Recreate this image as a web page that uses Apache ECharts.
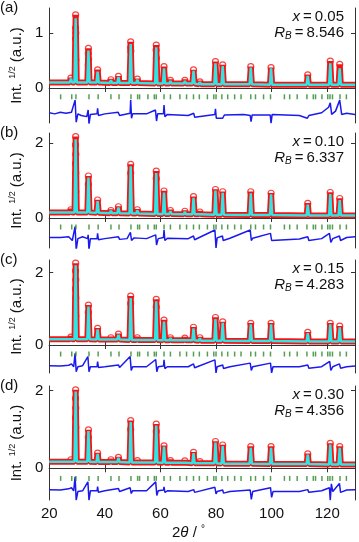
<!DOCTYPE html>
<html>
<head>
<meta charset="utf-8">
<script src="https://cdn.jsdelivr.net/npm/echarts@6/dist/echarts.min.js"></script>
<style>
html,body{margin:0;padding:0;background:#fff;}
#main{width:359px;height:542px;}
</style>
</head>
<body>
<div id="main"></div>
<script>
// x: 2theta (deg), y: sqrt intensity
const xTicks = [20, 40, 60, 80, 100, 120];
const panelTags = ['(a)', '(b)', '(c)', '(d)'];
const compX = ['0.05', '0.10', '0.15', '0.30'];
const rB = ['8.546', '6.337', '4.283', '4.356'];
const yMin = [-0.636, -0.8, -0.773, -0.817];
const yMax = [1.455, 2.267, 2.348, 2.12];
const yTicks = [[0, 1], [0, 2], [0, 2], [0, 2]];
const braggY = [-0.16, -0.24, -0.25, -0.26];

// background level at both ends
const baseA = [[20, 0.1], [130, 0.06]];
const baseB = [[20, 0.15], [130, 0.07]];
const baseC = [[20, 0.16], [130, 0.1]];
const baseD = [[20, 0.17], [130, 0.1]];

// peaks: [2theta, observed top, calculated top, local background]
const peaksA = [
  [27.8, 0.18, 0.17, 0.1], [29.5, 1.33, 1.27, 0.1], [34.1, 0.72, 0.68, 0.1], [37.4, 0.33, 0.3, 0.1],
  [42.2, 0.15, 0.14, 0.09], [44.9, 0.21, 0.2, 0.09], [49.3, 0.84, 0.8, 0.09], [51.7, 0.16, 0.15, 0.09],
  [58.5, 0.78, 0.74, 0.08], [61.3, 0.39, 0.36, 0.08], [63.6, 0.14, 0.13, 0.08], [68.8, 0.14, 0.13, 0.08],
  [71.9, 0.33, 0.31, 0.08], [74.2, 0.11, 0.11, 0.07], [79.8, 0.48, 0.45, 0.07], [82.4, 0.42, 0.4, 0.07],
  [92.5, 0.39, 0.37, 0.07], [99.8, 0.37, 0.36, 0.06], [113.0, 0.24, 0.22, 0.06], [121.1, 0.49, 0.45, 0.06],
  [124.5, 0.43, 0.36, 0.06]
];
const peaksB = [
  [27.8, 0.22, 0.2, 0.15], [29.5, 2.17, 2.1, 0.15], [34.1, 1.12, 1.08, 0.15], [37.4, 0.48, 0.45, 0.14],
  [42.2, 0.2, 0.19, 0.13], [44.9, 0.3, 0.28, 0.13], [49.3, 1.43, 1.38, 0.12], [51.7, 0.22, 0.2, 0.12],
  [58.5, 1.25, 1.2, 0.11], [61.3, 0.72, 0.68, 0.11], [63.6, 0.2, 0.18, 0.11], [68.8, 0.18, 0.17, 0.1],
  [71.9, 0.57, 0.54, 0.1], [74.2, 0.16, 0.15, 0.1], [79.8, 0.76, 0.73, 0.09], [82.4, 0.7, 0.67, 0.09],
  [92.5, 0.7, 0.66, 0.08], [99.8, 0.66, 0.63, 0.08], [113.0, 0.39, 0.36, 0.07], [121.1, 0.68, 0.64, 0.07],
  [124.5, 0.52, 0.48, 0.07]
];
const peaksC = [
  [27.8, 0.22, 0.2, 0.16], [29.5, 2.26, 2.2, 0.16], [34.1, 1.1, 1.06, 0.16], [37.4, 0.46, 0.43, 0.15],
  [42.2, 0.2, 0.19, 0.15], [44.9, 0.3, 0.28, 0.15], [49.3, 1.35, 1.3, 0.14], [51.7, 0.2, 0.19, 0.14],
  [58.5, 1.26, 1.21, 0.14], [61.3, 0.69, 0.65, 0.13], [63.6, 0.2, 0.19, 0.13], [68.8, 0.19, 0.18, 0.13],
  [71.9, 0.49, 0.46, 0.13], [74.2, 0.2, 0.19, 0.12], [79.8, 0.76, 0.72, 0.12], [82.4, 0.64, 0.61, 0.12],
  [92.5, 0.6, 0.57, 0.11], [99.8, 0.6, 0.57, 0.11], [113.0, 0.35, 0.33, 0.1], [121.1, 0.6, 0.57, 0.1],
  [124.5, 0.52, 0.49, 0.1]
];
const peaksD = [
  [27.8, 0.22, 0.21, 0.17], [29.5, 2.02, 1.98, 0.17], [34.1, 0.99, 0.96, 0.17], [37.4, 0.39, 0.37, 0.16],
  [42.2, 0.22, 0.21, 0.16], [44.9, 0.28, 0.27, 0.16], [49.3, 1.23, 1.19, 0.15], [51.7, 0.2, 0.19, 0.15],
  [58.5, 1.14, 1.1, 0.15], [61.3, 0.58, 0.56, 0.14], [63.6, 0.2, 0.19, 0.14], [68.8, 0.19, 0.18, 0.14],
  [71.9, 0.41, 0.39, 0.13], [74.2, 0.17, 0.16, 0.13], [79.8, 0.69, 0.66, 0.13], [82.4, 0.6, 0.57, 0.12],
  [92.5, 0.56, 0.53, 0.12], [99.8, 0.56, 0.53, 0.11], [113.0, 0.37, 0.35, 0.11], [121.1, 0.64, 0.61, 0.1],
  [124.5, 0.56, 0.53, 0.1]
];

// extra observed points seen on the flanks of the strong peaks
const flankA = [[29.45, 1.09], [29.55, 1.0], [29.45, 0.9], [29.45, 0.6], [29.55, 0.51],
  [34.05, 0.63], [34.15, 0.52], [34.05, 0.42], [49.25, 0.74], [49.35, 0.67], [58.45, 0.69], [58.55, 0.54]];
const flankB = [[29.45, 1.95], [29.55, 1.7], [29.45, 1.45], [29.55, 1.2], [29.45, 0.95], [29.55, 0.7],
  [34.05, 0.9], [49.3, 1.2], [58.5, 1.05]];
const flankC = [[29.45, 2.05], [29.55, 1.8], [29.45, 1.55], [29.55, 1.3], [29.45, 1.05], [29.55, 0.8],
  [34.05, 0.9], [49.3, 1.15], [58.5, 1.05]];
const flankD = [[29.45, 1.8], [29.55, 1.55], [29.45, 1.3], [29.55, 1.05], [29.45, 0.8],
  [34.05, 0.8], [49.3, 1.0], [58.5, 0.95]];

// difference curves (obs - calc, offset)
const diffA = [[20, -0.45], [22, -0.47], [24, -0.44], [26, -0.46], [28, -0.44], [29.3, -0.22], [29.7, -0.62], [30.3, -0.47],
  [31.5, -0.5], [33.5, -0.52], [34.0, -0.4], [34.3, -0.65], [34.8, -0.48], [37.2, -0.47], [37.4, -0.37], [37.7, -0.5],
  [40, -0.47], [44.8, -0.44], [45.3, -0.5], [49.1, -0.46], [49.3, -0.22], [49.6, -0.55], [50, -0.47], [55, -0.47],
  [58.2, -0.4], [58.6, -0.6], [59, -0.47], [61.1, -0.47], [61.3, -0.31], [61.6, -0.52], [62.5, -0.48], [70, -0.5],
  [72, -0.46], [72.3, -0.53], [79.6, -0.48], [79.8, -0.38], [80.1, -0.55], [82.4, -0.55], [83, -0.49], [90, -0.48],
  [92.3, -0.5], [92.6, -0.61], [93, -0.49], [99.5, -0.49], [99.8, -0.64], [100.2, -0.48], [110, -0.5], [112.8, -0.55],
  [113.4, -0.5], [118, -0.45], [120.5, -0.35], [121.1, -0.27], [121.6, -0.48], [123, -0.42], [124.5, -0.22],
  [125.2, -0.48], [127, -0.46], [130, -0.48]];
const diffB = [[20, -0.52], [24, -0.52], [27, -0.5], [28.3, -0.6], [29.3, -0.23], [29.7, -0.85], [30.3, -0.55], [32, -0.5],
  [33.8, -0.55], [34.0, -0.45], [34.3, -0.85], [34.8, -0.55], [37.2, -0.55], [37.4, -0.41], [37.7, -0.58], [40, -0.55],
  [44.9, -0.5], [45.3, -0.57], [48, -0.55], [49.2, -0.38], [49.6, -0.6], [50.5, -0.53], [55, -0.55], [58.3, -0.45],
  [58.6, -0.72], [59.2, -0.55], [61.1, -0.52], [61.3, -0.32], [61.6, -0.6], [62.5, -0.54], [70, -0.55], [71.9, -0.48],
  [72.3, -0.58], [79.6, -0.32], [80, -0.8], [80.4, -0.53], [82.3, -0.48], [82.6, -0.6], [85, -0.54], [92.3, -0.32],
  [92.7, -0.6], [93.2, -0.54], [99.6, -0.41], [100, -0.6], [100.5, -0.55], [110, -0.56], [113, -0.5], [113.4, -0.6],
  [118, -0.55], [120.8, -0.41], [121.3, -0.65], [122, -0.55], [124.4, -0.48], [124.8, -0.6], [127, -0.52], [130, -0.5]];
const diffC = [[20, -0.57], [24, -0.58], [27, -0.56], [28, -0.52], [28.8, -0.6], [29.3, -0.23], [29.7, -0.74], [30.3, -0.6],
  [32, -0.57], [33.9, -0.32], [34.3, -0.74], [34.8, -0.6], [37.2, -0.6], [37.4, -0.46], [37.7, -0.62], [40, -0.6],
  [44.9, -0.55], [45.3, -0.62], [49.1, -0.32], [49.5, -0.7], [50, -0.6], [55, -0.6], [58.3, -0.4], [58.7, -0.74],
  [59.2, -0.6], [61.1, -0.58], [61.3, -0.41], [61.6, -0.65], [62.5, -0.6], [70, -0.6], [71.9, -0.52], [72.3, -0.63],
  [79.6, -0.41], [80, -0.77], [80.4, -0.6], [82.4, -0.55], [82.7, -0.65], [85, -0.6], [92.3, -0.5], [92.7, -0.7],
  [93.2, -0.6], [99.6, -0.5], [100, -0.77], [100.5, -0.6], [110, -0.6], [113, -0.55], [113.4, -0.64], [118, -0.6],
  [120.9, -0.45], [121.3, -0.7], [122, -0.6], [124.4, -0.52], [124.8, -0.64], [127, -0.6], [130, -0.58]];
const diffD = [[20, -0.55], [24, -0.56], [27, -0.53], [28, -0.5], [28.8, -0.58], [29.3, -0.22], [29.7, -0.82], [30.3, -0.6],
  [32, -0.58], [33.9, -0.35], [34.3, -0.82], [34.8, -0.58], [37.2, -0.58], [37.4, -0.47], [37.7, -0.62], [40, -0.58],
  [44.9, -0.52], [45.3, -0.6], [49.1, -0.5], [49.5, -0.65], [50, -0.58], [55, -0.58], [58.3, -0.35], [58.7, -0.7],
  [59.2, -0.58], [61.1, -0.56], [61.3, -0.48], [61.6, -0.62], [62.5, -0.58], [70, -0.6], [72, -0.55], [72.3, -0.62],
  [79.6, -0.49], [80, -0.66], [80.4, -0.6], [82.4, -0.56], [82.7, -0.64], [85, -0.6], [92.3, -0.56], [92.7, -0.8],
  [93.2, -0.6], [99.6, -0.5], [100, -0.75], [100.5, -0.6], [110, -0.6], [113, -0.55], [113.4, -0.62], [118, -0.58],
  [120.8, -0.5], [121.1, -0.82], [121.5, -0.4], [122, -0.6], [124.4, -0.39], [124.8, -0.62], [127, -0.56], [130, -0.55]];

// Bragg reflection positions
const braggPos = [24.1, 28.1, 29.6, 34.3, 37.6, 42.2, 45.1, 49.4, 51.8, 52.5, 55.5, 57.8, 58.5, 61.3, 63.6, 67.0, 69.4,
  71.9, 74.0, 76.9, 79.2, 80.0, 82.1, 84.2, 86.7, 89.0, 92.5, 94.2, 97.1, 99.6, 104.6, 106.5, 109.2, 112.7, 115.0,
  115.8, 118.1, 120.2, 121.0, 121.9, 124.6, 126.9];

const bases = [baseA, baseB, baseC, baseD];
const peaks = [peaksA, peaksB, peaksC, peaksD];
const flanks = [flankA, flankB, flankC, flankD];
const diffs = [diffA, diffB, diffC, diffD];

const font = 'Liberation Sans, Arial, sans-serif';
const gridTop = [8, 133, 260, 386];
const gridH = [115, 115, 113, 114];
const hw = 0.4;

function profile(base, pk, col) {
  let pts = base.slice();
  pk.forEach(p => {
    pts.push([p[0] - hw, p[3]], [p[0], p[col]], [p[0] + hw, p[3]]);
  });
  return pts.sort((a, b) => a[0] - b[0]);
}

let grids = [], xAxes = [], yAxes = [], series = [], graphics = [];
for (let i = 0; i < 4; i++) {
  grids.push({left: 38, right: 4, top: gridTop[i], height: gridH[i]});
  const axLine = {show: true, lineStyle: {color: '#333', width: 1}};
  xAxes.push({
    gridIndex: i, type: 'value', min: 20, max: 130, position: 'bottom',
    axisLine: axLine, splitLine: {show: false},
    axisTick: {inside: true, length: 4, customValues: xTicks.slice(1), lineStyle: {color: '#333'}},
    axisLabel: {show: i === 3, customValues: xTicks, fontSize: 15, color: '#111', fontFamily: font, margin: 6}
  });
  xAxes.push({
    gridIndex: i, type: 'value', min: 20, max: 130, position: 'top',
    axisLine: axLine, splitLine: {show: false},
    axisTick: {inside: true, length: 4, customValues: xTicks.slice(1), lineStyle: {color: '#333'}},
    axisLabel: {show: false}
  });
  yAxes.push({
    gridIndex: i, type: 'value', min: yMin[i], max: yMax[i], position: 'left',
    axisLine: axLine, splitLine: {show: false},
    axisTick: {inside: true, length: 4, customValues: yTicks[i], lineStyle: {color: '#333'}},
    axisLabel: {customValues: yTicks[i], fontSize: 15, color: '#111', fontFamily: font, margin: 6},
    name: 'Int. {s|1/2} (a.u.)', nameLocation: 'middle', nameRotate: 90, nameGap: 16,
    nameTextStyle: {
      fontSize: 15, color: '#111', fontFamily: font,
      rich: {s: {fontSize: 9, fontFamily: font, color: '#111', verticalAlign: 'top', padding: [0, 0, 8, 0]}}
    }
  });
  yAxes.push({
    gridIndex: i, type: 'value', min: yMin[i], max: yMax[i], position: 'right',
    axisLine: axLine, splitLine: {show: false},
    axisTick: {inside: true, length: 4, customValues: yTicks[i], lineStyle: {color: '#333'}},
    axisLabel: {show: false}
  });

  const xi = i * 2, yi = i * 2;
  series.push({
    type: 'line', xAxisIndex: xi, yAxisIndex: yi, data: profile(bases[i], peaks[i], 1),
    showSymbol: false, lineStyle: {color: '#f41414', width: 6}, silent: true, z: 2
  });
  series.push({
    type: 'scatter', xAxisIndex: xi, yAxisIndex: yi,
    data: peaks[i].map(p => [p[0], p[1]]).concat(flanks[i]),
    symbol: 'circle', symbolSize: 6,
    itemStyle: {color: 'rgba(255,255,255,0)', borderColor: '#f41414', borderWidth: 1.2}, z: 3
  });
  series.push({
    type: 'line', xAxisIndex: xi, yAxisIndex: yi, data: profile(bases[i], peaks[i], 2),
    showSymbol: false, lineStyle: {color: '#2ee6e6', width: 2.5}, silent: true, z: 4
  });
  series.push({
    type: 'scatter', xAxisIndex: xi, yAxisIndex: yi,
    data: braggPos.map(v => [v, braggY[i]]),
    symbol: 'rect', symbolSize: [1.5, 5], itemStyle: {color: '#2b872b'}, z: 3
  });
  series.push({
    type: 'line', xAxisIndex: xi, yAxisIndex: yi, data: diffs[i],
    showSymbol: false, lineStyle: {color: '#1a1aee', width: 1.5}, silent: true, z: 3
  });

  graphics.push({
    type: 'text', left: 0, top: gridTop[i] - 8,
    style: {text: panelTags[i], font: '15px ' + font, fill: '#111'}
  });
  graphics.push({
    type: 'text', right: 15, top: gridTop[i] + 1,
    style: {
      text: '{i|x}\u2009=\u2009' + compX[i], font: '15px ' + font, fill: '#111',
      rich: {i: {fontStyle: 'italic', fontSize: 15, fontFamily: font}}
    }
  });
  graphics.push({
    type: 'text', right: 15, top: gridTop[i] + 17,
    style: {
      text: '{i|R}{b|B}\u2009=\u2009' + rB[i], font: '15px ' + font, fill: '#111',
      rich: {
        i: {fontStyle: 'italic', fontSize: 15, fontFamily: font},
        b: {fontStyle: 'italic', fontSize: 10, fontFamily: font, verticalAlign: 'bottom', padding: [8, 0, 0, 0]}
      }
    }
  });
}

graphics.push({
  type: 'text', left: 172, top: 524,
  style: {
    text: '2{i|θ} / {s|°}', font: '15px ' + font, fill: '#111',
    rich: {
      i: {fontStyle: 'italic', fontSize: 15, fontFamily: font},
      s: {fontSize: 10, fontFamily: font, verticalAlign: 'top', padding: [0, 0, 8, 0]}
    }
  }
});

const myChart = echarts.init(document.getElementById('main'));
myChart.setOption({
  animation: false,
  backgroundColor: '#fff',
  grid: grids,
  xAxis: xAxes,
  yAxis: yAxes,
  series: series,
  graphic: graphics
});
</script>
</body>
</html>
